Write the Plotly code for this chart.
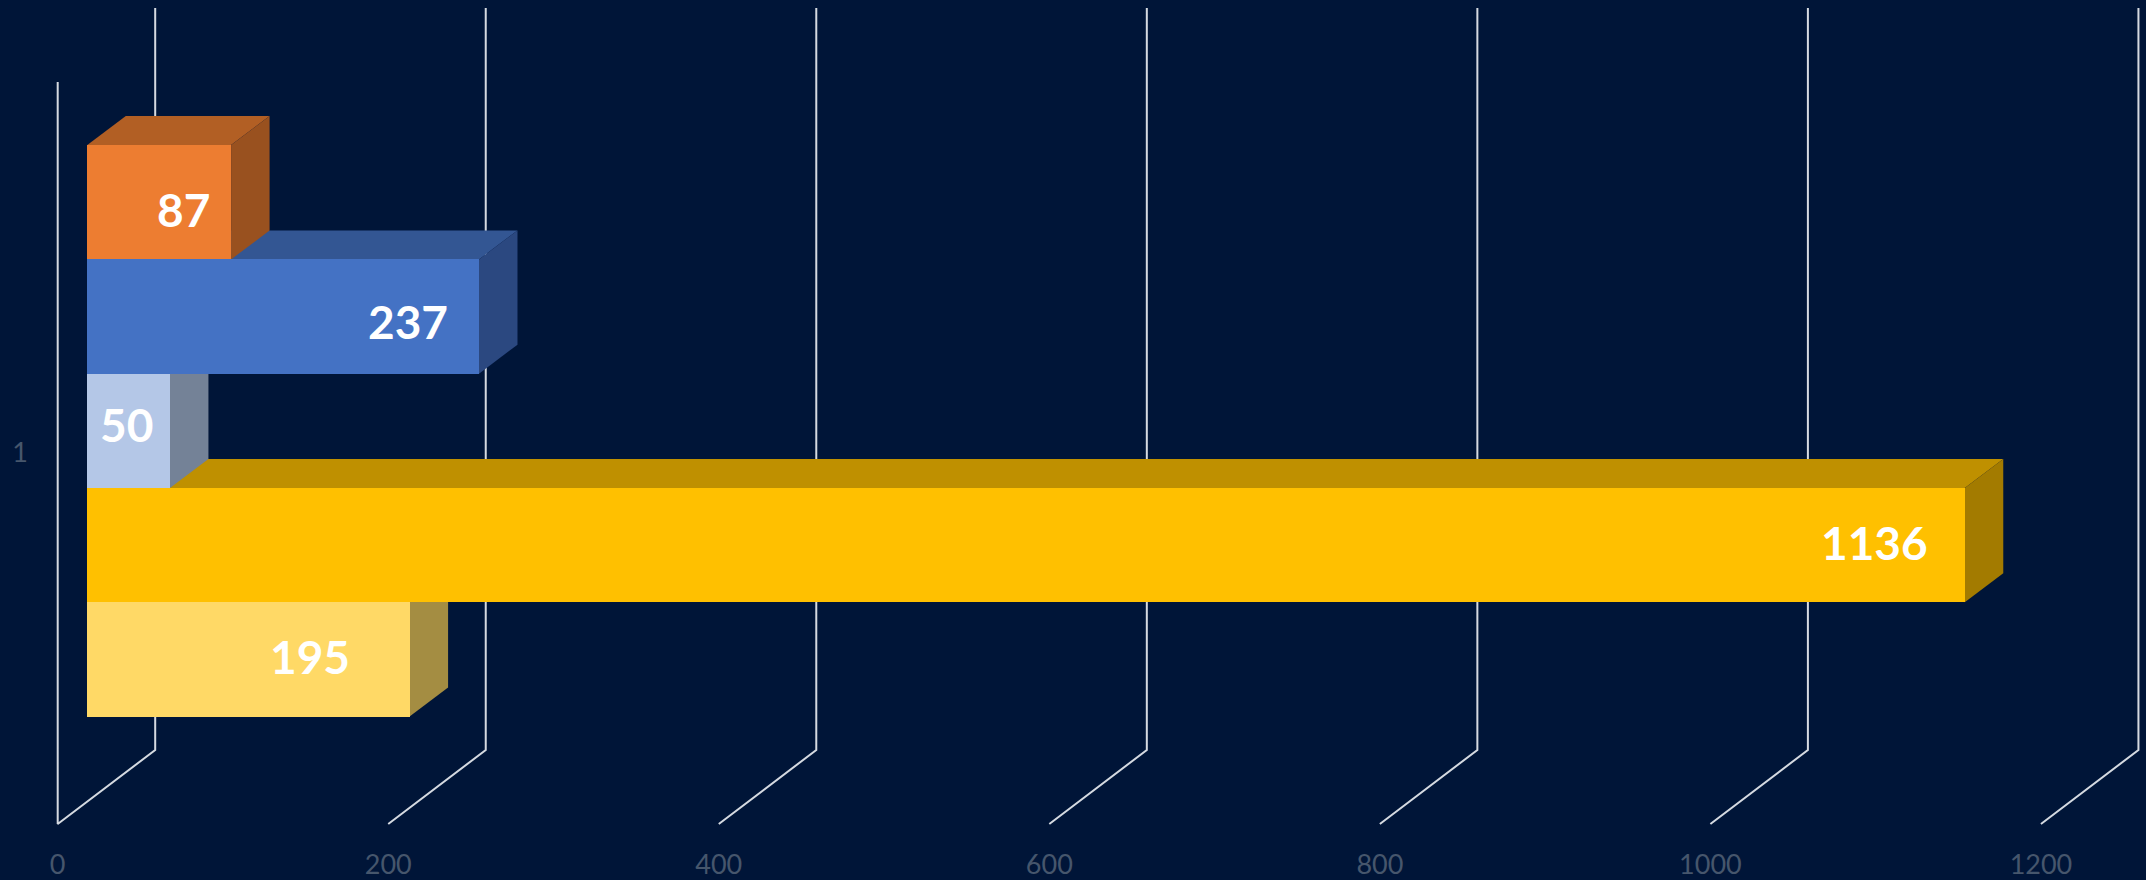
import plotly.graph_objects as go

# Series run from the bottom bar of the stack to the top one
series_names = ["Series 1", "Series 2", "Series 3", "Series 4", "Series 5"]
series_values = [195, 1136, 50, 237, 87]
category_value = 1
category_label = "1"
tick_values = [0, 200, 400, 600, 800, 1000, 1200]

front_colors = ["#FFD966", "#FFC000", "#B4C7E7", "#4472C4", "#ED7D31"]
top_colors = ["#BFA34C", "#BF9000", "#87959F", "#335693", "#B25F24"]
side_colors = ["#A48D42", "#A37B00", "#748297", "#2B4880", "#99511F"]

# Value label placement relative to the end of each bar, in pixels
label_gap = [58, 35, 15, 29, 19]
label_drop = [-3, -3, -6, 5, 7]

WIDTH, HEIGHT = 2146, 880
MARGIN_L, MARGIN_B = 29, 34
BACKGROUND = "#001538"
GRID_COLOR = "#D5DAE1"
TICK_COLOR = "#46566C"

PX_PER_UNIT = 1.6527          # horizontal scale of the value axis
WALL_ZERO_PX = 57.7           # zero on the front edge of the floor
BAR_ZERO_PX = 87.3            # zero on the front plane of the bars
FLOOR_DX, FLOOR_DY = 97.5, 74  # floor depth projected on screen
BAR_DX, BAR_DY = 38.5, 29      # bar depth projected on screen

WALL_CENTER_PX, WALL_PX_PER_UNIT = 453.0, 742.0
BAR_CENTER_PX, BAR_PX_PER_UNIT = 430.85, 571.5
PLOT_BOTTOM_PX = HEIGHT - MARGIN_B


def x_range(zero_px):
    return [(MARGIN_L - zero_px) / PX_PER_UNIT, (WIDTH - zero_px) / PX_PER_UNIT]


def y_range(center_px, px_per_unit):
    return [
        category_value + (center_px - PLOT_BOTTOM_PX) / px_per_unit,
        category_value + center_px / px_per_unit,
    ]


fig = go.Figure()

# Wall and floor lines: front edge, floor diagonal, then up the back wall
floor_dx = FLOOR_DX / PX_PER_UNIT
floor_dy = FLOOR_DY / WALL_PX_PER_UNIT
y_low, y_high = category_value - 0.5, category_value + 0.5
for tick in tick_values:
    xs = [tick, tick + floor_dx, tick + floor_dx]
    ys = [y_low, y_low + floor_dy, y_high + floor_dy]
    if tick == tick_values[0]:
        xs = [tick] + xs
        ys = [y_high] + ys
    fig.add_trace(go.Scatter(
        x=xs, y=ys, mode="lines", xaxis="x", yaxis="y",
        line=dict(color=GRID_COLOR, width=2),
        showlegend=False, hoverinfo="skip",
    ))

# Top and side faces of the bars, painted from the lowest bar upward
band = 1 / len(series_values)
bar_dx = BAR_DX / PX_PER_UNIT
bar_dy = BAR_DY / BAR_PX_PER_UNIT
for i, value in enumerate(series_values):
    lower = category_value - 0.5 + i * band
    upper = lower + band
    fig.add_trace(go.Scatter(
        x=[0, value, value + bar_dx, bar_dx, 0],
        y=[upper, upper, upper + bar_dy, upper + bar_dy, upper],
        mode="lines", fill="toself", fillcolor=top_colors[i],
        line=dict(width=0), xaxis="x2", yaxis="y2",
        showlegend=False, hoverinfo="skip",
    ))
    fig.add_trace(go.Scatter(
        x=[value, value + bar_dx, value + bar_dx, value, value],
        y=[lower, lower + bar_dy, upper + bar_dy, upper, lower],
        mode="lines", fill="toself", fillcolor=side_colors[i],
        line=dict(width=0), xaxis="x2", yaxis="y2",
        showlegend=False, hoverinfo="skip",
    ))

# Front faces
for i, value in enumerate(series_values):
    fig.add_trace(go.Bar(
        x=[value], y=[category_value], orientation="h", name=series_names[i],
        marker=dict(color=front_colors[i], line=dict(width=0)),
        xaxis="x3", yaxis="y3", showlegend=False,
    ))

annotations = [
    dict(
        x=value, y=category_value - 0.5 + (i + 0.5) * band,
        xref="x3", yref="y3", text=str(value), showarrow=False,
        xanchor="right", yanchor="middle",
        xshift=-label_gap[i], yshift=-label_drop[i],
        font=dict(family="Lato", size=46, color="#FFFFFF", weight="bold"),
    )
    for i, value in enumerate(series_values)
]

hidden_x = dict(visible=False, overlaying="x", anchor="y", fixedrange=True)
hidden_y = dict(visible=False, overlaying="y", anchor="x", fixedrange=True)

fig.update_layout(
    width=WIDTH,
    height=HEIGHT,
    margin=dict(l=MARGIN_L, r=0, t=0, b=MARGIN_B, pad=0),
    paper_bgcolor=BACKGROUND,
    plot_bgcolor=BACKGROUND,
    barmode="group",
    bargap=0,
    bargroupgap=0,
    showlegend=False,
    annotations=annotations,
    font=dict(family="Lato", size=27, color=TICK_COLOR),
    xaxis=dict(
        range=x_range(WALL_ZERO_PX), tickmode="array", tickvals=tick_values,
        showgrid=False, zeroline=False, showline=False, ticks="",
        tickfont=dict(family="Lato", size=27, color=TICK_COLOR),
    ),
    yaxis=dict(
        range=y_range(WALL_CENTER_PX, WALL_PX_PER_UNIT), tickmode="array",
        tickvals=[category_value], ticktext=[category_label],
        showgrid=False, zeroline=False, showline=False, ticks="",
        tickfont=dict(family="Lato", size=27, color=TICK_COLOR),
    ),
    xaxis2=dict(range=x_range(BAR_ZERO_PX), **hidden_x),
    yaxis2=dict(range=y_range(BAR_CENTER_PX, BAR_PX_PER_UNIT), **hidden_y),
    xaxis3=dict(range=x_range(BAR_ZERO_PX), **hidden_x),
    yaxis3=dict(range=y_range(BAR_CENTER_PX, BAR_PX_PER_UNIT), **hidden_y),
)

fig.write_html("out.html")
